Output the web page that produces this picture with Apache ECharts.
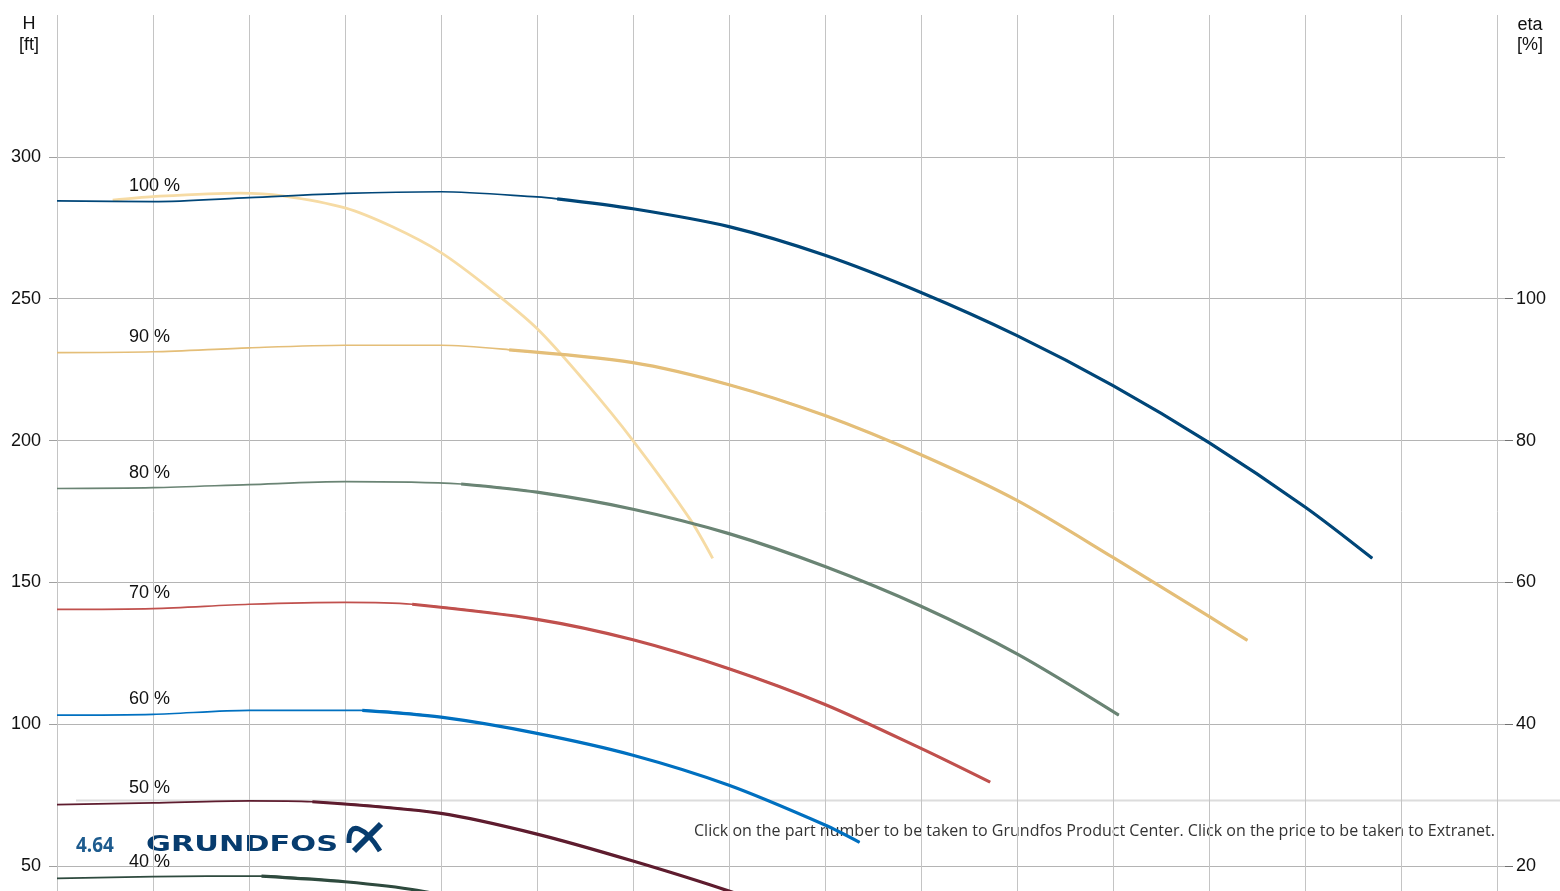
<!DOCTYPE html>
<html>
<head>
<meta charset="utf-8">
<script src="https://cdn.jsdelivr.net/npm/echarts@6/dist/echarts.min.js"></script>
<style>
html, body { margin: 0; padding: 0; overflow: hidden; background: #fff; }
#chart { width: 1560px; height: 1060px; }
</style>
</head>
<body>
<div id="chart"></div>
<script>
// Q in grid units (one vertical line = 1), H in ft, eta in %

// speed curves, thin part (outside operating range) and thick part
var h100Thin  = [[0, 284.5], [1, 284.2], [2, 285.6], [3, 287.1], [4, 287.7], [5, 285.9], [5.21, 285.2]];
var h100Thick = [[5.21, 285.2], [6, 281.7], [7, 275.4], [8, 265.3], [9, 252.2], [10, 237], [11, 219.4], [12, 199.3], [13, 176.6], [13.7, 158.5]];

var h90Thin  = [[0, 231], [1, 231.3], [2, 232.7], [3, 233.6], [4, 233.6], [4.71, 232]];
var h90Thick = [[4.71, 232], [6, 227.5], [7, 219.7], [8, 208.8], [9, 195], [10, 178.9], [11, 158.8], [12, 138], [12.4, 129.6]];

var h80Thin  = [[0, 183.1], [1, 183.4], [2, 184.5], [3, 185.5], [4.21, 184.7]];
var h80Thick = [[4.21, 184.7], [5, 181.8], [6, 175.8], [7, 167.2], [8, 155.6], [9, 141.6], [10, 124.8], [11.06, 103.2]];

var h70Thin  = [[0, 140.5], [1, 140.8], [2, 142.3], [3, 143], [3.7, 142.3]];
var h70Thick = [[3.7, 142.3], [5, 137], [6, 129.8], [7, 119.6], [8, 107], [9, 91.5], [9.72, 79.6]];

var h60Thin  = [[0, 103.2], [1, 103.5], [2, 104.9], [3.18, 104.9]];
var h60Thick = [[3.18, 104.9], [4, 102.5], [5, 96.8], [6, 89.1], [7, 78.5], [8, 64.5], [8.36, 58.4]];

var h50Thin  = [[0, 71.7], [1, 72.3], [2, 73], [2.66, 72.7]];
var h50Thick = [[2.66, 72.7], [4, 68.6], [5, 61.3], [6, 51.8], [7, 41.2], [8, 29]];

var h40Thin  = [[0, 45.7], [1, 46.3], [2.13, 46.5]];
var h40Thick = [[2.13, 46.5], [3, 44.5], [3.75, 41.5], [5, 33]];

// efficiency curve (right axis)
var etaCurve = [[0.58, 113.9], [1, 114.4], [1.91, 114.9], [2.35, 114.5], [3, 112.8], [3.5, 110.1], [4, 106.5], [4.5, 101.5], [5, 95.8], [5.5, 88.3], [6, 80], [6.59, 69], [6.83, 63.4]];

// speed labels
var speedNames  = ['100 %', '90 %', '80 %', '70 %', '60 %', '50 %', '40 %'];
var speedLabelQ = [0.75, 0.75, 0.75, 0.75, 0.75, 0.75, 0.75];
var speedLabelH = [289.8, 236.6, 188.7, 146.1, 108.8, 77.5, 51.4];

// axis ticks
var hTicks   = [0, 50, 100, 150, 200, 250, 300];
var etaTicks = [0, 20, 40, 60, 80, 100];

var chart = echarts.init(document.getElementById('chart'));

function curve(name, data, color, width, axis) {
    return {
        name: name,
        type: 'line',
        data: data,
        yAxisIndex: axis || 0,
        smooth: 0.3,
        symbol: 'none',
        silent: true,
        lineStyle: { color: color, width: width, cap: 'butt' }
    };
}

// thin line runs the whole curve so the bend stays smooth, thick part on top
function speedCurve(name, thin, thick, color) {
    return [
        curve(name, thin.concat(thick.slice(1)), color, 1.7),
        curve(name, thick, color, 3.2)
    ];
}

function fitScale(text, font, width) {
    var ctx = document.createElement('canvas').getContext('2d');
    ctx.font = font;
    return width / ctx.measureText(text).width;
}

var labelData = [];
for (var i = 0; i < speedNames.length; i++) {
    labelData.push({ value: [speedLabelQ[i], speedLabelH[i]], name: speedNames[i] });
}

var noteText = 'Click on the part number to be taken to Grundfos Product Center. Click on the price to be taken to Extranet.';
var noteFont = '16px "Open Sans"';
var logoFont = 'bold 21px "DejaVu Sans"';
var axisFont = 'Liberation Sans';

var series = [curve('eta', etaCurve, '#f6dba4', 2.8, 1)]
    .concat(speedCurve('100 %', h100Thin, h100Thick, '#004678'))
    .concat(speedCurve('90 %', h90Thin, h90Thick, '#e4be78'))
    .concat(speedCurve('80 %', h80Thin, h80Thick, '#6a8474'))
    .concat(speedCurve('70 %', h70Thin, h70Thick, '#c0504d'))
    .concat(speedCurve('60 %', h60Thin, h60Thick, '#0070c0'))
    .concat(speedCurve('50 %', h50Thin, h50Thick, '#5e1c2e'))
    .concat(speedCurve('40 %', h40Thin, h40Thick, '#2e4a3e'));

series.push({
    type: 'scatter',
    data: labelData,
    symbolSize: 0,
    silent: true,
    z: 5,
    itemStyle: { opacity: 1 },
    label: {
        show: true,
        position: [0, 0],
        align: 'left',
        verticalAlign: 'middle',
        formatter: '{b}',
        fontFamily: axisFont,
        fontSize: 18,
        color: '#111111',
        opacity: 1,
        textBorderWidth: 0
    }
});

chart.setOption({
    animation: false,
    grid: { left: 57, right: 55, top: 15, bottom: 52 },
    xAxis: {
        type: 'value',
        min: 0,
        max: 15.083,
        interval: 1,
        axisLine: { show: false },
        axisTick: { show: false },
        axisLabel: { show: false },
        splitLine: { show: true, showMaxLine: false, lineStyle: { color: '#c4c4c4', width: 1 } }
    },
    yAxis: [{
        type: 'value',
        min: 0,
        max: 350,
        interval: 50,
        position: 'left',
        axisLine: { show: false },
        axisTick: { show: true, length: 8, customValues: hTicks, lineStyle: { color: '#a0a0a0' } },
        axisLabel: { customValues: hTicks, margin: 16, fontFamily: axisFont, fontSize: 18, color: '#111111' },
        splitLine: { show: true, lineStyle: { color: '#b4b4b4', width: 1 } }
    }, {
        type: 'value',
        min: 0,
        max: 140,
        interval: 20,
        position: 'right',
        axisLine: { show: false },
        axisTick: { show: true, length: 8, customValues: etaTicks, lineStyle: { color: '#707070' } },
        axisLabel: { customValues: etaTicks, margin: 11, fontFamily: axisFont, fontSize: 18, color: '#111111' },
        splitLine: { show: false }
    }],
    graphic: [
        { type: 'text', x: 29, y: 24, style: { text: 'H', font: '18px "Liberation Sans"', fill: '#111111', textAlign: 'center', textVerticalAlign: 'middle' } },
        { type: 'text', x: 29, y: 45, style: { text: '[ft]', font: '18px "Liberation Sans"', fill: '#111111', textAlign: 'center', textVerticalAlign: 'middle' } },
        { type: 'text', x: 1530, y: 25, style: { text: 'eta', font: '18px "Liberation Sans"', fill: '#111111', textAlign: 'center', textVerticalAlign: 'middle' } },
        { type: 'text', x: 1530, y: 45, style: { text: '[%]', font: '18px "Liberation Sans"', fill: '#111111', textAlign: 'center', textVerticalAlign: 'middle' } },

        // footer
        { type: 'line', shape: { x1: 76, y1: 800.5, x2: 1560, y2: 800.5 }, style: { stroke: '#dcdcdc', lineWidth: 2 } },
        { type: 'text', x: 76, y: 846, scaleX: 0.9, style: { text: '4.64', font: 'bold 21px "Open Sans"', fill: '#1d5b8e', textAlign: 'left', textVerticalAlign: 'middle' } },
        { type: 'text', x: 146, y: 846, scaleX: fitScale('GRUNDFOS', logoFont, 192), style: { text: 'GRUNDFOS', font: logoFont, fill: '#073c6e', textAlign: 'left', textVerticalAlign: 'middle' } },
        { type: 'bezierCurve', shape: { x1: 349, y1: 843, cpx1: 348, cpy1: 818, cpx2: 366, cpy2: 828, x2: 380, y2: 851 }, style: { stroke: '#073c6e', lineWidth: 5, fill: null } },
        { type: 'line', shape: { x1: 381, y1: 824, x2: 354, y2: 851 }, style: { stroke: '#073c6e', lineWidth: 6 } },
        { type: 'text', x: 1495, y: 831, scaleX: fitScale(noteText, noteFont, 801), style: { text: noteText, font: noteFont, fill: '#333333', textAlign: 'right', textVerticalAlign: 'middle' } }
    ],
    series: series
});
</script>
</body>
</html>
